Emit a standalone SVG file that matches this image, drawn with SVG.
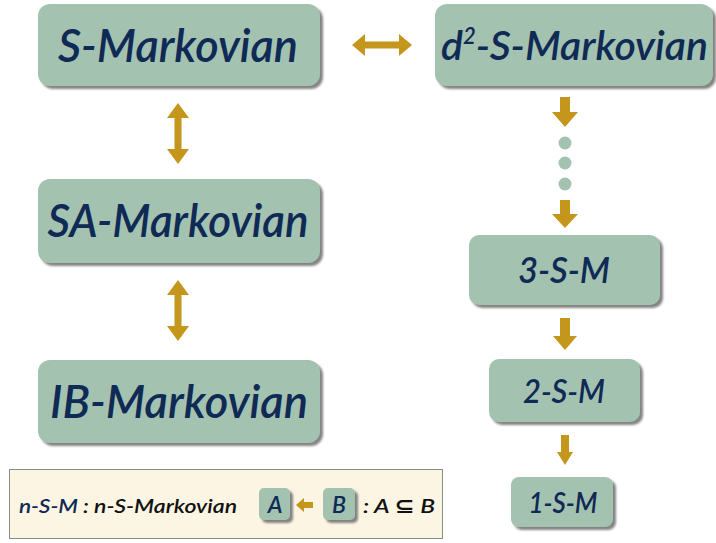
<svg xmlns="http://www.w3.org/2000/svg" width="716" height="543" viewBox="0 0 716 543">
  <defs>
    <filter id="shadow" x="-10%" y="-10%" width="125%" height="130%">
      <feDropShadow dx="3" dy="3" stdDeviation="1.2" flood-color="#6e6e6e" flood-opacity="0.85"/>
    </filter>
  </defs>
  <style>
    .box { fill: #a4c2b0; filter: url(#shadow); }
    .lbl { font-family: Lato, "Open Sans", "DejaVu Sans", sans-serif; font-style: italic; font-weight: 600; fill: #0f2a55; text-anchor: middle; }
    .lft { font-family: Lato, "Open Sans", "DejaVu Sans", sans-serif; font-style: italic; font-weight: 600; fill: #0f2a55; }
    .arrow { fill: #c4961c; }
    .dot { fill: #a4c2b0; }
    .leg { font-family: Lato, "Open Sans", "DejaVu Sans", sans-serif; font-style: italic; font-weight: 600; font-size: 20px; }
  </style>
  <rect width="716" height="543" fill="#ffffff"/>

  <g id="s-markovian">
    <rect class="box" x="38" y="4" width="282" height="82" rx="12"/>
    <text class="lbl" x="178" y="62" font-size="46" textLength="240" lengthAdjust="spacingAndGlyphs">S-Markovian</text>
  </g>

  <g id="d2-s-markovian">
    <rect class="box" x="435" y="4" width="278" height="82" rx="12"/>
    <text class="lft" x="441" y="60" font-size="41">d<tspan font-size="22" dy="-16">2</tspan><tspan dy="16">-S-Markovian</tspan></text>
  </g>

  <g id="sa-markovian">
    <rect class="box" x="38" y="179" width="282" height="84" rx="12"/>
    <text class="lbl" x="178" y="237" font-size="46" textLength="261" lengthAdjust="spacingAndGlyphs">SA-Markovian</text>
  </g>

  <g id="ib-markovian">
    <rect class="box" x="38" y="360" width="282" height="83" rx="12"/>
    <text class="lbl" x="179" y="418" font-size="46" textLength="258" lengthAdjust="spacingAndGlyphs">IB-Markovian</text>
  </g>

  <g id="three-s-m">
    <rect class="box" x="469" y="235" width="191" height="70" rx="10"/>
    <text class="lbl" x="564" y="283" font-size="36" textLength="92" lengthAdjust="spacingAndGlyphs">3-S-M</text>
  </g>

  <g id="two-s-m">
    <rect class="box" x="489" y="359" width="151" height="63" rx="10"/>
    <text class="lbl" x="564" y="403" font-size="33" textLength="82" lengthAdjust="spacingAndGlyphs">2-S-M</text>
  </g>

  <g id="one-s-m">
    <rect class="box" x="511" y="477" width="102" height="50" rx="8"/>
    <text class="lbl" x="563" y="513" font-size="28" textLength="69" lengthAdjust="spacingAndGlyphs">1-S-M</text>
  </g>

  <g id="connectors">
    <!-- S-Markovian <-> d2-S-Markovian -->
    <path class="arrow" d="M352,45 L365,34 L365,41.5 L399,41.5 L399,34 L412,45 L399,56 L399,48.5 L365,48.5 L365,56 Z"/>
    <!-- S-Markovian <-> SA-Markovian -->
    <path class="arrow" d="M178,103 L189,118 L181.5,118 L181.5,149 L189,149 L178,164 L167,149 L174.5,149 L174.5,118 L167,118 Z"/>
    <!-- SA-Markovian <-> IB-Markovian -->
    <path class="arrow" d="M178,280 L189,295 L181.5,295 L181.5,326 L189,326 L178,341 L167,326 L174.5,326 L174.5,295 L167,295 Z"/>
    <!-- right column chain -->
    <path class="arrow" d="M560,97 H570 V112 H578 L565,127 L552,112 H560 Z"/>
    <circle class="dot" cx="565" cy="143" r="6.5"/>
    <circle class="dot" cx="565" cy="163" r="6.5"/>
    <circle class="dot" cx="565" cy="184" r="6.5"/>
    <path class="arrow" d="M560,200 H570 V214 H578 L565,228 L552,214 H560 Z"/>
    <path class="arrow" d="M560,318 H570 V336 H577 L565,350 L553,336 H560 Z"/>
    <path class="arrow" d="M561,435 H569 V452 H573 L565,465 L557,452 H561 Z"/>
  </g>

  <g id="legend">
    <rect x="9.5" y="469.5" width="433" height="69" fill="#fcf5e3" stroke="#8c8c8c" stroke-width="1"/>
    <text class="leg" x="19" y="513" fill="#0f2a55" textLength="59" lengthAdjust="spacingAndGlyphs">n-S-M</text>
    <text class="leg" x="83" y="513" fill="#111111" textLength="154" lengthAdjust="spacingAndGlyphs">: n-S-Markovian</text>
    <rect class="box" x="259" y="488" width="31" height="32" rx="5"/>
    <text class="lbl" x="275" y="513" font-size="23">A</text>
    <path class="arrow" d="M296,505 L304,498 V502 H313 V508 H304 V512 Z"/>
    <rect class="box" x="323" y="488" width="32" height="32" rx="5"/>
    <text class="lbl" x="339" y="513" font-size="23">B</text>
    <text class="leg" x="363" y="513" fill="#111111" textLength="72" lengthAdjust="spacingAndGlyphs">: A ⊆ B</text>
  </g>
</svg>
